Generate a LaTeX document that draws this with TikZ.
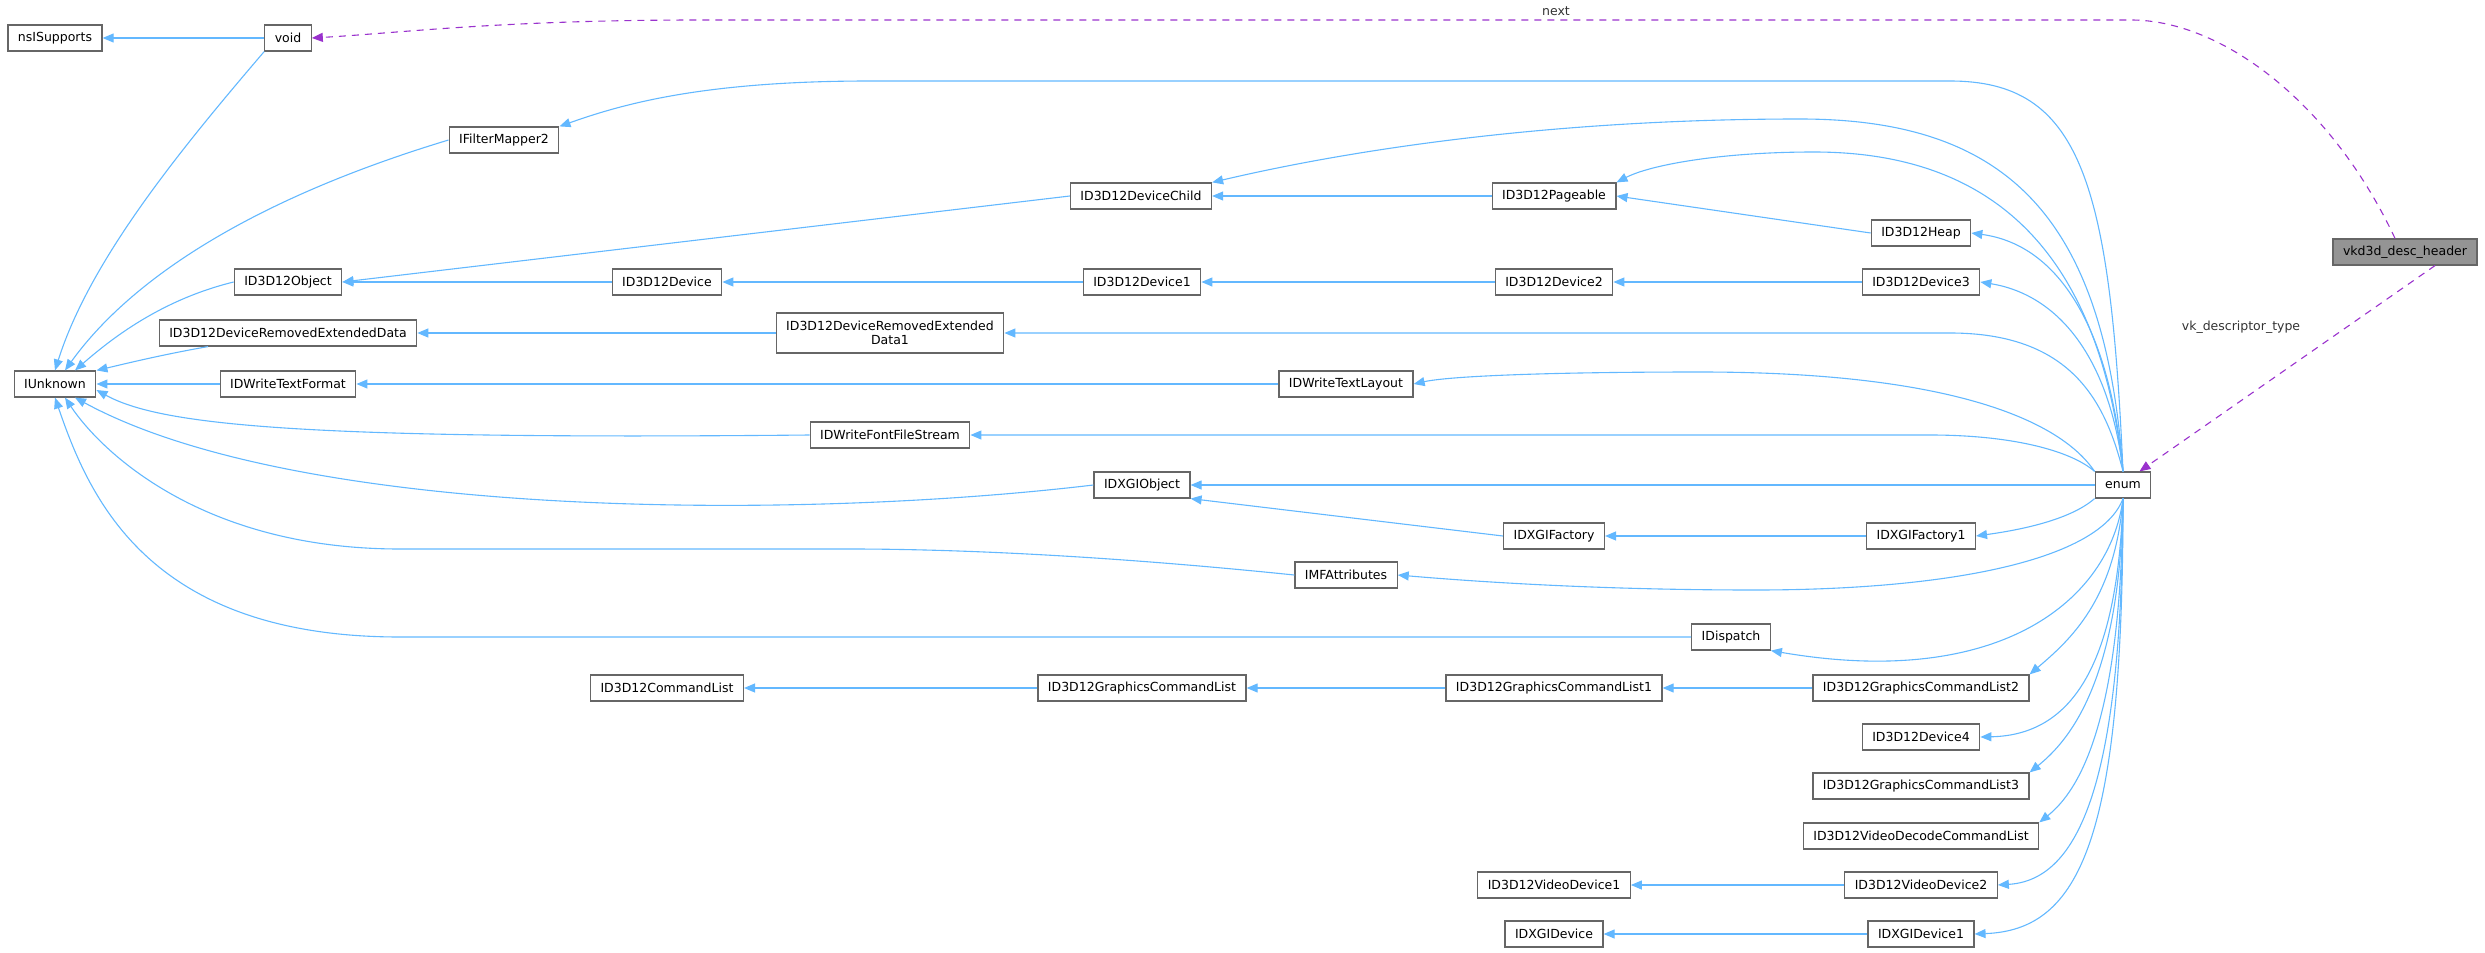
\documentclass[tikz,border=0pt]{standalone}
\usepackage{fontspec}
\setmainfont{DejaVu Sans}
\usetikzlibrary{arrows.meta}
\definecolor{eblue}{HTML}{63B8FF}
\definecolor{epurp}{HTML}{9A32CD}
\definecolor{bgrey}{HTML}{666666}
\begin{document}
\begin{tikzpicture}[x=1pt,y=-1pt,
  box/.style={draw=bgrey,line width=1.2pt,fill=white,minimum height=26pt,inner xsep=10pt,inner ysep=2pt,font=\fontsize{12.5}{14}\selectfont},
  e/.style={draw=eblue,line width=1.1pt,-{Triangle[length=11pt,width=9pt]}},
  d/.style={draw=epurp,line width=1.1pt,dashed,dash pattern=on 7pt off 6pt,-{Triangle[length=11pt,width=9pt]}},
  lbl/.style={font=\fontsize{12.5}{14}\selectfont,text=black!80}]
\useasboundingbox (0,0) rectangle (2485,953);
% nodes
\node[box] (nsi) at (55,38) {nsISupports};
\node[box] (void) at (288,38) {void};
\node[box] (iunk) at (55,384) {IUnknown};
\node[box] (ifm) at (504,140) {IFilterMapper2};
\node[box] (obj) at (288,282) {ID3D12Object};
\node[box] (dred) at (288,333) {ID3D12DeviceRemovedExtendedData};
\node[box] (dwtf) at (288,384) {IDWriteTextFormat};
\node[box] (dchild) at (1141,196) {ID3D12DeviceChild};
\node[box] (dev) at (667,282) {ID3D12Device};
\node[box] (dev1) at (1142,282) {ID3D12Device1};
\node[box,align=center,minimum height=40pt] (dred1) at (890,333) {ID3D12DeviceRemovedExtended\\Data1};
\node[box] (dwtl) at (1346,384) {IDWriteTextLayout};
\node[box] (dwff) at (890,435) {IDWriteFontFileStream};
\node[box] (page) at (1554,196) {ID3D12Pageable};
\node[box] (heap) at (1921,233) {ID3D12Heap};
\node[box] (dev2) at (1554,282) {ID3D12Device2};
\node[box] (dev3) at (1921,282) {ID3D12Device3};
\node[box,fill=black!42] (vkd) at (2405,252) {vkd3d\_desc\_header};
\node[box] (enum) at (2123,485) {enum};
\node[box] (dxo) at (1142,485) {IDXGIObject};
\node[box] (mfa) at (1346,575) {IMFAttributes};
\node[box] (dxf) at (1554,536) {IDXGIFactory};
\node[box] (dxf1) at (1921,536) {IDXGIFactory1};
\node[box] (disp) at (1731,637) {IDispatch};
\node[box] (cl) at (667,688) {ID3D12CommandList};
\node[box] (gcl) at (1142,688) {ID3D12GraphicsCommandList};
\node[box] (gcl1) at (1554,688) {ID3D12GraphicsCommandList1};
\node[box] (gcl2) at (1921,688) {ID3D12GraphicsCommandList2};
\node[box] (dev4) at (1921,737) {ID3D12Device4};
\node[box] (gcl3) at (1921,786) {ID3D12GraphicsCommandList3};
\node[box] (vdcl) at (1921,836) {ID3D12VideoDecodeCommandList};
\node[box] (vd1) at (1554,885) {ID3D12VideoDevice1};
\node[box] (vd2) at (1921,885) {ID3D12VideoDevice2};
\node[box] (dxd) at (1554,934) {IDXGIDevice};
\node[box] (dxd1) at (1921,934) {IDXGIDevice1};
% edges to IUnknown and roots
\draw[e] (void) -- (nsi);
\draw[e] (void.south west) .. controls (180,150) and (90,260) .. (iunk.north);
\draw[e] (ifm.west) .. controls (250,200) and (130,280) .. ([xshift=10pt]iunk.north);
\draw[e] (obj.west) .. controls (160,300) and (110,340) .. ([xshift=20pt]iunk.north);
\draw[e] ([xshift=-80pt]dred.south) .. controls (160,355) and (120,365) .. (iunk.north east);
\draw[e] (dwtf) -- (iunk);
\draw[e] (dwff.west) .. controls (300,440) and (160,425) .. ([yshift=-6pt]iunk.east);
\draw[e] (dxo.west) .. controls (800,520) and (300,520) .. ([xshift=20pt]iunk.south);
\draw[e] (mfa.west) .. controls (1100,555) and (950,549) .. (850,549) -- (400,549) .. controls (200,549) and (100,450) .. ([xshift=10pt]iunk.south);
\draw[e] (disp.west) -- (400,637) .. controls (150,637) and (90,500) .. (iunk.south);
\draw[e] (dchild.west) -- (obj.east);
\draw[e] (dev) -- (obj);
\draw[e] (dred1) -- (dred);
\draw[e] (dwtl) -- (dwtf);
\draw[e] (page) -- (dchild);
\draw[e] (dev1) -- (dev);
\draw[e] (dev2) -- (dev1);
\draw[e] (dev3) -- (dev2);
\draw[e] (heap.west) -- (page.east);
\draw[e] (dxf.west) -- (dxo.south east);
\draw[e] (dxf1) -- (dxf);
\draw[e] (gcl) -- (cl);
\draw[e] (gcl1) -- (gcl);
\draw[e] (gcl2) -- (gcl1);
\draw[e] (vd2) -- (vd1);
\draw[e] (dxd1) -- (dxd);
% edges from enum
\draw[e] (enum.north) .. controls (2110,180) and (2080,81) .. (1950,81) -- (870,81) .. controls (700,81) and (620,105) .. (ifm.north east);
\draw[e] (enum.north) .. controls (2105,220) and (2010,119) .. (1800,119) .. controls (1550,119) and (1350,150) .. (dchild.north east);
\draw[e] (enum.north) .. controls (2100,260) and (2000,152) .. (1814,152) .. controls (1720,152) and (1650,165) .. (page.north east);
\draw[e] (enum.north) .. controls (2110,330) and (2060,245) .. (heap.east);
\draw[e] (enum.north) .. controls (2110,360) and (2060,295) .. (dev3.east);
\draw[e] (enum.north) .. controls (2105,400) and (2070,333) .. (1950,333) -- (dred1.east);
\draw[e] (enum.north west) .. controls (2060,420) and (1950,372) .. (1700,372) .. controls (1550,372) and (1450,376) .. (dwtl.east);
\draw[e] (enum.north west) .. controls (2070,450) and (2010,435) .. (1930,435) -- (dwff.east);
\draw[e] (enum.west) -- (dxo.east);
\draw[e] (enum.south west) .. controls (2070,520) and (2020,530) .. (dxf1.east);
\draw[e] (enum.south) .. controls (2100,560) and (1950,590) .. (1755,590) .. controls (1600,590) and (1480,582) .. (mfa.east);
\draw[e] (enum.south) .. controls (2110,600) and (2000,690) .. (disp.south east);
\draw[e] (enum.south) .. controls (2115,600) and (2070,640) .. (gcl2.north east);
\draw[e] (enum.south) .. controls (2118,650) and (2080,735) .. (dev4.east);
\draw[e] (enum.south) .. controls (2120,680) and (2070,740) .. (gcl3.north east);
\draw[e] (enum.south) .. controls (2121,720) and (2080,790) .. (vdcl.north east);
\draw[e] (enum.south) .. controls (2122,780) and (2080,880) .. (vd2.east);
\draw[e] (enum.south) .. controls (2123,840) and (2080,930) .. (dxd1.east);
% dashed
\draw[d] ([xshift=-10pt]vkd.north) .. controls (2330,100) and (2220,20) .. (2131,20) -- (700,20) .. controls (500,20) and (400,33) .. (void.east);
\node[lbl] (nextl) at (1556,11) {next};
\draw[d] ([xshift=30pt]vkd.south) -- ([xshift=-12pt]enum.north east);
\node[lbl] (vkl) at (2241,327) {vk\_descriptor\_type};
\end{tikzpicture}
\end{document}
